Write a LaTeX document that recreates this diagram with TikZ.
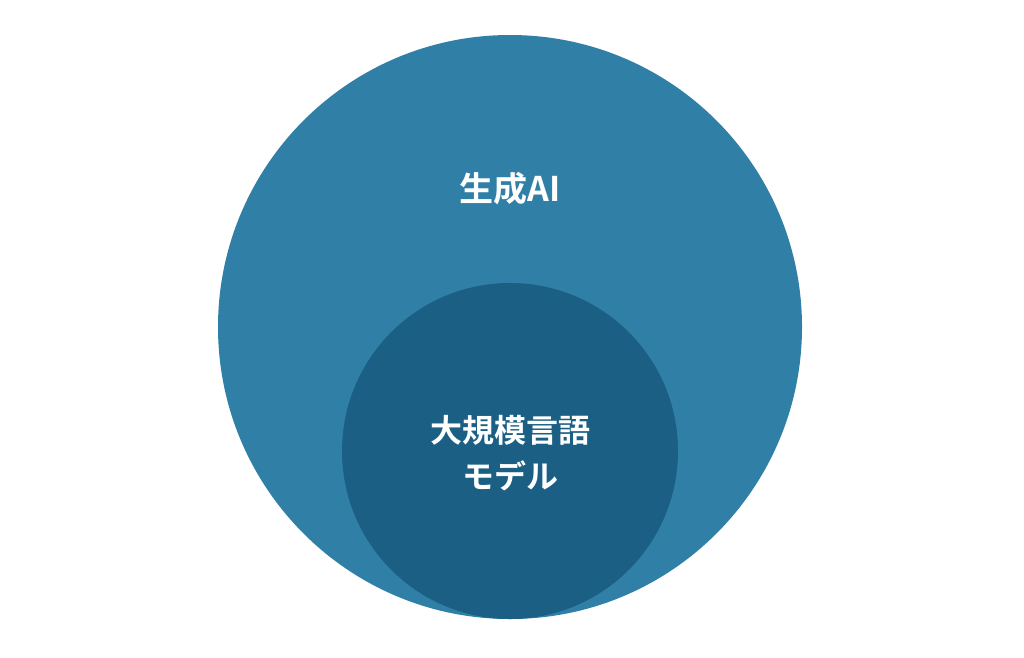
\documentclass[tikz,border=0pt]{standalone}
\usepackage{fontspec}
\newfontfamily\jpbold{Noto Sans CJK JP Bold}
\definecolor{outerblue}{HTML}{307FA6}
\definecolor{innerblue}{HTML}{1B5F84}
\begin{document}
\begin{tikzpicture}[x=1pt,y=-1pt]
    \useasboundingbox (0,0) rectangle (1024,657);
    \fill[white] (0,0) rectangle (1024,657);
    \fill (510,327) circle (292) [color = outerblue];
    \fill (510,451) circle (168) [color = innerblue];
    \node (genai) at (510,189) [text = white, font = \jpbold\fontsize{34}{40}\selectfont] {生成AI};
    \node (llm) at (510,453) [text = white, align = center, font = \jpbold\fontsize{32}{46}\selectfont] {大規模言語\\モデル};
\end{tikzpicture}
\end{document}
